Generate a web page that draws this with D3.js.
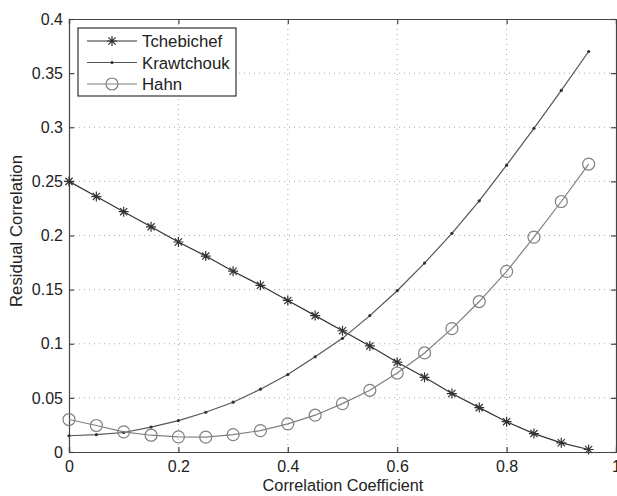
<!DOCTYPE html>
<html><head><meta charset="utf-8">
<script src="https://cdn.jsdelivr.net/npm/d3@7"></script>
<style>body{margin:0;background:#fff}svg{display:block}text{font-family:"Liberation Sans",Arial,sans-serif;fill:#222}</style>
</head><body><svg id="c" width="617" height="496"></svg>
<script>
const xVals = [0,0.05,0.1,0.15,0.2,0.25,0.3,0.35,0.4,0.45,0.5,0.55,0.6,0.65,0.7,0.75,0.8,0.85,0.9,0.95];
const tchebichef = [0.25,0.236,0.222,0.208,0.194,0.181,0.167,0.154,0.140,0.126,0.112,0.098,0.083,0.069,0.054,0.041,0.028,0.017,0.0085,0.0023];
const krawtchouk = [0.015,0.016,0.018,0.023,0.029,0.0367,0.046,0.058,0.0715,0.088,0.105,0.126,0.149,0.1745,0.202,0.232,0.265,0.299,0.334,0.370];
const hahn = [0.030,0.0245,0.0186,0.0155,0.014,0.0137,0.016,0.0198,0.026,0.034,0.0447,0.057,0.073,0.0915,0.114,0.139,0.1668,0.1985,0.2314,0.266];
const xTicks = [0,0.2,0.4,0.6,0.8,1];
const yTicks = [0,0.05,0.1,0.15,0.2,0.25,0.3,0.35,0.4];
const seriesNames = ["Tchebichef","Krawtchouk","Hahn"];

const svg = d3.select("#c");
const L=69,R=616,T=19,B=452;
const x = d3.scaleLinear().domain([0,1]).range([L,R]);
const y = d3.scaleLinear().domain([0,0.4]).range([B,T]);

// grid
const g = svg.append("g");
g.selectAll(".gx").data(xTicks.slice(1,-1)).enter().append("line")
 .attr("x1",d=>x(d)).attr("x2",d=>x(d)).attr("y1",T).attr("y2",B)
 .attr("stroke","#aaa").attr("stroke-width",1).attr("stroke-dasharray","1,4");
g.selectAll(".gy").data(yTicks.slice(1,-1)).enter().append("line")
 .attr("y1",d=>y(d)).attr("y2",d=>y(d)).attr("x1",L).attr("x2",R)
 .attr("stroke","#aaa").attr("stroke-width",1).attr("stroke-dasharray","1,4");

// axes
const FS=16;
const ax = d3.axisBottom(x).tickValues(xTicks).tickSize(-5).tickPadding(9).tickFormat(d3.format("~g"));
const ay = d3.axisLeft(y).tickValues(yTicks).tickSize(-5).tickPadding(6).tickFormat(d3.format("~g"));
const axT = d3.axisTop(x).tickValues(xTicks).tickSize(-5).tickFormat("");
const ayR = d3.axisRight(y).tickValues(yTicks).tickSize(-5).tickFormat("");
function style(s){s.selectAll("path,line").attr("stroke","#444").attr("stroke-width",1.2);s.selectAll("text").attr("font-size",FS).attr("fill","#222").attr("font-family",'"Liberation Sans",Arial,sans-serif');}
svg.append("g").attr("transform",`translate(0,${B})`).call(ax).call(style);
svg.append("g").attr("transform",`translate(${L},0)`).call(ay).call(style);
svg.append("g").attr("transform",`translate(0,${T})`).call(axT).call(style);
svg.append("g").attr("transform",`translate(${R},0)`).call(ayR).call(style);

svg.append("text").attr("x",343).attr("y",491).attr("text-anchor","middle").attr("font-size",16.3).text("Correlation Coefficient");
svg.append("text").attr("transform",`translate(22,231) rotate(-90)`).attr("text-anchor","middle").attr("font-size",16.8).text("Residual Correlation");

const series = [
 {name:seriesNames[0], vals:tchebichef, color:"#333", marker:"star"},
 {name:seriesNames[1], vals:krawtchouk, color:"#555", marker:"dot"},
 {name:seriesNames[2], vals:hahn, color:"#808080", marker:"circle"}
];
const line = d3.line().x((d,i)=>x(xVals[i])).y(d=>y(d));
function drawMarker(sel, cx, cy, s){
  if(s.marker==="star"){
    const r=5, r2=3.6;
    sel.append("path").attr("d",`M${cx-r},${cy}L${cx+r},${cy}M${cx},${cy-r}L${cx},${cy+r}M${cx-r2},${cy-r2}L${cx+r2},${cy+r2}M${cx-r2},${cy+r2}L${cx+r2},${cy-r2}`)
      .attr("stroke",s.color).attr("stroke-width",1.2).attr("fill","none");
  } else if(s.marker==="dot"){
    sel.append("circle").attr("cx",cx).attr("cy",cy).attr("r",1.6).attr("fill","#333");
  } else {
    sel.append("circle").attr("cx",cx).attr("cy",cy).attr("r",6).attr("fill","none").attr("stroke",s.color).attr("stroke-width",1.2);
  }
}
series.forEach(s=>{
  const gs = svg.append("g");
  gs.append("path").datum(s.vals).attr("d",line).attr("fill","none").attr("stroke",s.color).attr("stroke-width",1.2);
  s.vals.forEach((v,i)=>drawMarker(gs,x(xVals[i]),y(v),s));
});

// legend
const lg = svg.append("g");
lg.append("rect").attr("x",78).attr("y",28).attr("width",158).attr("height",68).attr("fill","#fff").attr("stroke","#333").attr("stroke-width",1.2);
series.forEach((s,i)=>{
  const yy = 41 + i*21.5;
  lg.append("line").attr("x1",87).attr("x2",137).attr("y1",yy).attr("y2",yy).attr("stroke",s.color).attr("stroke-width",1.2);
  drawMarker(lg,112,yy,s);
  lg.append("text").attr("x",142).attr("y",yy+6).attr("font-size",16.8).text(s.name);
});
</script></body></html>
